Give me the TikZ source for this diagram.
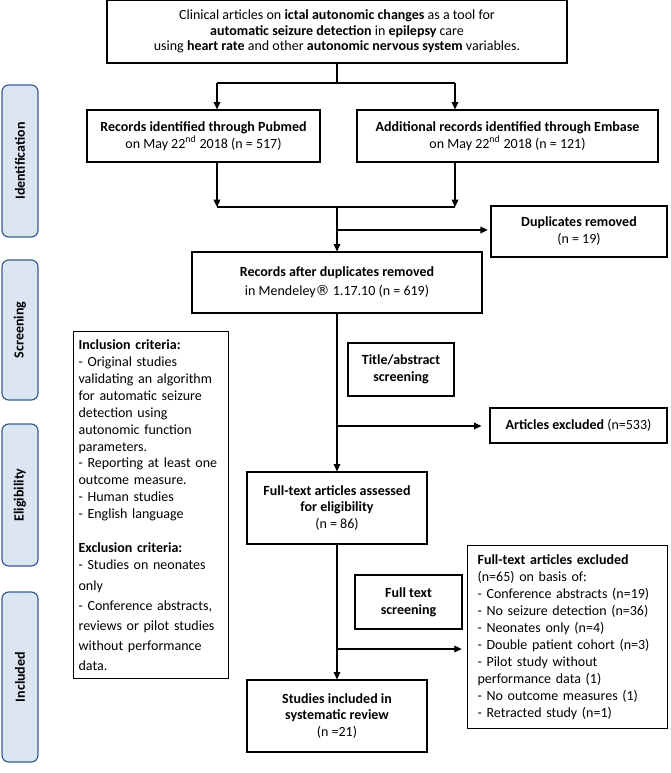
\documentclass[tikz,border=0pt]{standalone}
\usepackage{fontspec}
\setmainfont{Carlito}
\newfontfamily\symfont{DejaVu Sans}
\usetikzlibrary{arrows.meta, positioning}
\definecolor{tabfill}{HTML}{DCE6F2}
\definecolor{tabline}{HTML}{385D8A}

\begin{document}
\begin{tikzpicture}[x=0.75pt, y=-0.75pt,
  box/.style={draw, line width=0.9pt, align=center, inner sep=0pt,
    font=\fontsize{10.5}{12.7}\selectfont},
  listbox/.style={box, align=left, anchor=north west, inner xsep=3.75pt},
  tab/.style={draw=tabline, fill=tabfill, line width=0.9pt, rounded corners=5pt,
    rotate=90, inner sep=0pt, font=\fontsize{10.5}{12.7}\selectfont\bfseries},
  ln/.style={line width=0.9pt},
  arr/.style={ln, -{Triangle[length=5.5pt, width=5pt]}}]
  \useasboundingbox (0,0) rectangle (670,773);

  % phase tabs
  \foreach \name/\top/\bot/\lab in {
    tabid/85/237/Identification,
    tabscr/260/400/Screening,
    tabelig/424/566/Eligibility,
    tabincl/592/762/Included
  }{
    \node[tab, minimum width={(\bot-\top)*0.75pt}, minimum height=27pt]
      (\name) at (20,{(\top+\bot)/2}) {\lab};
  }

  % boxes
  \node[box, minimum width=345pt, minimum height=47.25pt, font=\fontsize{10.5}{11.8}\selectfont]
    (topic) at (337,31.5) {Clinical articles on \textbf{ictal autonomic changes} as a tool for\\
    \textbf{automatic seizure detection} in \textbf{epilepsy} care\\
    using \textbf{heart rate} and other \textbf{autonomic nervous system} variables.};
  \node[box, minimum width=174.75pt, minimum height=39pt] (pubmed) at (203.5,136)
    {\textbf{Records identified through Pubmed}\\on May 22\textsuperscript{nd} 2018 (n = 517)};
  \node[box, minimum width=225.75pt, minimum height=39pt] (embase) at (507.5,136)
    {\textbf{Additional records identified through Embase}\\on May 22\textsuperscript{nd} 2018 (n = 121)};
  \node[box, minimum width=132pt, minimum height=38.25pt] (dup) at (579,231.5)
    {\textbf{Duplicates removed}\\(n = 19)};
  \node[box, minimum width=217.5pt, minimum height=45.75pt] (records) at (337,282.5)
    {\textbf{Records after duplicates removed}\\[1.5pt]in Mendeley{\symfont ®} 1.17.10 (n = 619)};
  \node[box, minimum width=79.5pt, minimum height=39.75pt] (titlescr) at (401,369.5)
    {\textbf{Title/abstract}\\\textbf{screening}};
  \node[box, minimum width=132.75pt, minimum height=26.25pt] (artexcl) at (578.5,425.5)
    {\textbf{Articles excluded} (n=533)};
  \node[box, minimum width=135pt, minimum height=54pt] (fulltext) at (337,508)
    {\textbf{Full-text articles assessed}\\\textbf{for eligibility}\\(n = 86)};
  \node[box, minimum width=80.25pt, minimum height=40.5pt] (ftscr) at (408.5,602)
    {\textbf{Full text}\\\textbf{screening}};
  \node[box, minimum width=135pt, minimum height=54pt] (studies) at (337,716)
    {\textbf{Studies included in}\\\textbf{systematic review}\\(n =21)};

  % criteria list
  \node[listbox, text width=108.75pt, minimum height=260.25pt] (criteria) at (73,331)
    {\textbf{Inclusion criteria:}\\
    - Original studies\\
    validating an algorithm\\
    for automatic seizure\\
    detection using\\
    autonomic function\\
    parameters.\\
    - Reporting at least one\\
    outcome measure.\\
    - Human studies\\
    - English language\\[12.7pt]
    \textbf{Exclusion criteria:}\\
    - Studies on neonates\\[3pt]
    only\\[2.3pt]
    - Conference abstracts,\\[2.3pt]
    reviews or pilot studies\\[2.3pt]
    without performance\\[2.3pt]
    data.};

  % reasons for exclusion
  \node[listbox, inner xsep=7.5pt, text width=135pt, minimum height=137.25pt] (ftexcl) at (467,545)
    {\textbf{Full-text articles excluded}\\
    (n=65) on basis of:\\
    - Conference abstracts (n=19)\\
    - No seizure detection (n=36)\\
    - Neonates only (n=4)\\
    - Double patient cohort (n=3)\\
    - Pilot study without\\
    performance data (1)\\
    - No outcome measures (1)\\
    - Retracted study (n=1)};

  % connectors
  \coordinate (split) at (337,83);
  \coordinate (splitL) at (217,83);
  \coordinate (splitR) at (455,83);
  \draw[ln] (topic.south) -- (split);
  \draw[ln] (splitL) -- (splitR);
  \draw[arr] (splitL) -- (splitL |- pubmed.north);
  \draw[arr] (splitR) -- (splitR |- embase.north);

  \coordinate (joinL) at (217,207);
  \coordinate (joinR) at (455,207);
  \coordinate (join) at (337,207);
  \draw[arr] (joinL |- pubmed.south) -- (joinL);
  \draw[arr] (joinR |- embase.south) -- (joinR);
  \draw[ln] (joinL) -- (joinR);
  \draw[arr] (join) -- (records.north);
  \coordinate (dupbranch) at (337,230);
  \draw[arr, shorten >=2pt] (dupbranch) -- (dupbranch -| dup.west);

  \draw[arr] (records.south) -- (fulltext.north);
  \coordinate (absbranch) at (337,426);
  \draw[arr, shorten >=6pt] (absbranch) -- (absbranch -| artexcl.west);

  \draw[arr] (fulltext.south) -- (studies.north);
  \coordinate (ftbranch) at (337,649);
  \draw[arr, shorten >=4pt] (ftbranch) -- (ftbranch -| ftexcl.west);
\end{tikzpicture}
\end{document}
